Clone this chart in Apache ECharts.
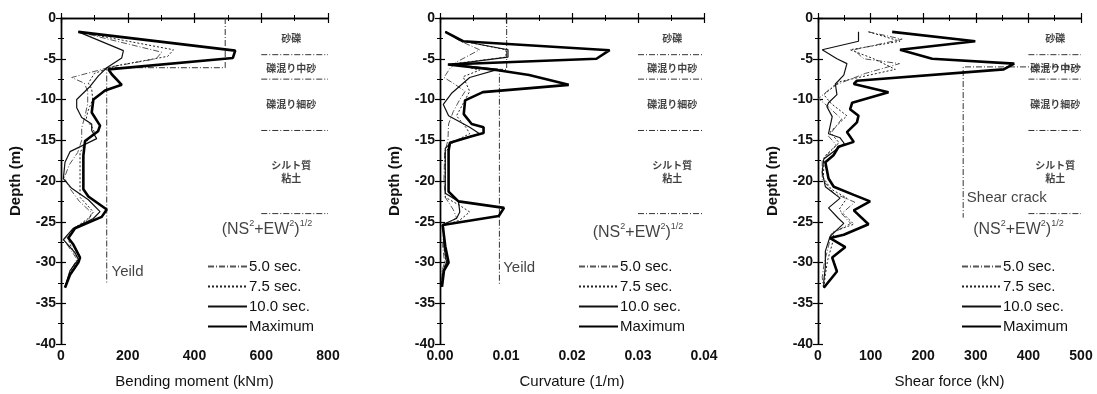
<!DOCTYPE html>
<html>
<head>
<meta charset="utf-8">
<script src="https://cdn.jsdelivr.net/npm/echarts@6/dist/echarts.min.js"></script>
<style>
  html, body { margin: 0; padding: 0; background: #fff; }
  #chart { width: 1097px; height: 394px; }
</style>
</head>
<body>
<div id="chart"></div>
<script>
// ---- data: [value, depth (m)] ----
const seriesNames = ['5.0 sec.', '7.5 sec.', '10.0 sec.', 'Maximum'];

// Bending moment (kNm)
const bm5 = [[52,-1.7],[302,-4.2],[285,-5],[150,-6],[32,-7.3],[70,-8],[80,-9],[80,-10.5],[72,-12],[62,-13.5],[62,-15],[50,-16.5],[25,-18],[10,-19.6],[28,-21],[55,-22.5],[92,-23.9],[85,-24.6],[45,-25.8],[8,-27.2],[30,-28.5],[48,-29.6],[28,-31],[12,-33]];
const bm7 = [[52,-1.7],[337,-3.9],[320,-4.7],[160,-5.9],[100,-6.8],[82,-8],[92,-8.7],[95,-10],[80,-11.5],[75,-12.5],[92,-13.3],[100,-14],[80,-15],[57,-16.5],[57,-19],[57,-22],[97,-23.8],[85,-24.5],[40,-25.8],[20,-27],[35,-28.5],[52,-29.6],[28,-31.2],[12,-33]];
const bm10 = [[52,-1.7],[187,-4.0],[182,-4.9],[137,-6.1],[112,-7.1],[87,-8.4],[47,-10],[47,-11],[62,-12.2],[92,-13],[92,-13.8],[107,-14.8],[27,-16.4],[12,-17.7],[7,-19.7],[32,-20.9],[82,-22.3],[117,-23.75],[97,-24.6],[37,-25.8],[7,-27.2],[42,-28.8],[52,-29.6],[27,-31],[12,-33]];
const bmMax = [[52,-1.7],[522,-4.0],[515,-4.9],[142,-6.3],[152,-6.9],[182,-8.2],[132,-8.9],[97,-10],[92,-11.6],[117,-13.2],[111,-13.9],[72,-15.1],[67,-16.9],[67,-21],[82,-21.9],[137,-23.5],[122,-24.4],[42,-25.8],[32,-26.4],[22,-27],[37,-27.8],[57,-29.4],[52,-30],[27,-31.5],[12,-33.1]];
const bmYield = [[492,0],[492,-6.1],[137,-6.1],[137,-32.5]];

// Curvature (1/m)
const cv5 = [[0.0008,-1.7],[0.003,-2.8],[0.006,-3.9],[0.0025,-5.4],[0.0015,-6.2],[0.0006,-7.3],[0.002,-8],[0.0038,-9],[0.003,-10],[0.002,-11.5],[0.0013,-13],[0.0012,-15],[0.0007,-16.5],[0.0006,-20],[0.0008,-22],[0.002,-23.5],[0.0025,-24.5],[0.0006,-25.5],[0.0004,-28],[0.0007,-30],[0.0003,-31],[0.0002,-33]];
const cv7 = [[0.0008,-1.7],[0.0035,-2.85],[0.0100,-3.9],[0.0100,-4.8],[0.0022,-5.6],[0.006,-6.4],[0.0035,-7.2],[0.0045,-9],[0.0035,-10.5],[0.0025,-12],[0.004,-13.5],[0.0045,-14.2],[0.002,-15.2],[0.0008,-16.5],[0.0008,-22],[0.003,-23],[0.0045,-23.8],[0.003,-24.8],[0.0005,-25.5],[0.0006,-28],[0.0009,-30],[0.0004,-31],[0.0002,-33]];
const cv10 = [[0.0008,-1.7],[0.0035,-2.85],[0.0103,-3.9],[0.0103,-4.8],[0.0018,-5.7],[0.0088,-6.3],[0.0045,-7.3],[0.0018,-9.2],[0.0005,-10.6],[0.0013,-12],[0.0045,-13.4],[0.006,-14.2],[0.0018,-15.2],[0.0008,-16],[0.0008,-21.5],[0.0028,-22.5],[0.003,-23.8],[0.0025,-24.6],[0.0005,-25.3],[0.0006,-28],[0.001,-30],[0.0005,-31],[0.0002,-33]];
const cvMax = [[0.0008,-1.7],[0.0035,-2.85],[0.0257,-3.95],[0.0237,-5.0],[0.0012,-5.7],[0.0088,-6.4],[0.0135,-7.0],[0.0195,-8.2],[0.0065,-9.1],[0.0038,-10.1],[0.0036,-11.8],[0.0048,-13.0],[0.0066,-13.4],[0.0066,-14.1],[0.0048,-14.5],[0.0015,-15.3],[0.0013,-16.3],[0.0013,-21.3],[0.0028,-22.5],[0.0097,-23.3],[0.0089,-24.3],[0.0004,-25.4],[0.0008,-28],[0.0013,-30],[0.0006,-31],[0.0003,-33]];
const cvYield = [[0.0101,0],[0.0101,-6.3],[0.0090,-6.3],[0.0090,-32.8]];

// Shear force (kN)
const sf5 = [[96,-1.7],[160,-2.6],[68,-3.9],[87,-5.0],[155,-5.6],[90,-6.8],[30,-8.3],[1,-9.9],[18,-10.8],[45,-12.4],[20,-14.5],[35,-15.6],[8,-17.5],[8,-19.8],[30,-21.5],[70,-22.6],[45,-24],[62,-25.2],[25,-26.5],[20,-28],[12,-30],[8,-31.8],[10,-33]];
const sf7 = [[96,-1.7],[156,-2.85],[61,-3.9],[106,-5.0],[147,-6.3],[42,-7.8],[11,-9.4],[25,-10.5],[55,-12.0],[23,-14],[40,-15.3],[12,-17],[10,-19.6],[25,-21],[55,-22.1],[40,-23.5],[68,-25.3],[30,-26.2],[28,-27.5],[18,-29.8],[14,-31.5],[11,-33]];
const sf10 = [[77,-1.7],[77,-2.85],[8,-3.9],[36,-5.0],[55,-5.6],[49,-7],[33,-8.1],[36,-9.4],[20,-10.4],[17,-10.9],[27,-12.1],[20,-14.2],[42,-14.7],[50,-15.4],[11,-17.3],[8,-18.9],[14,-20.7],[42,-22.1],[20,-23.3],[39,-24.6],[49,-25.2],[23,-26.8],[14,-28.6],[14,-30.5],[11,-32.3],[11,-33.1]];
const sfMax = [[141,-1.7],[299,-2.85],[156,-3.9],[217,-5.0],[373,-5.6],[353,-6.3],[74,-7.7],[68,-8.1],[134,-9.1],[65,-10.4],[61,-11.2],[77,-12],[74,-12.8],[55,-14],[68,-15.2],[39,-15.8],[30,-16.8],[14,-17.7],[20,-19.7],[30,-20.7],[68,-21.7],[99,-22.5],[68,-23.6],[96,-25.3],[49,-26.6],[23,-27],[52,-28.1],[27,-29.4],[36,-31.1],[11,-33.1]];
const sfCrack = [[500,-6],[276,-6],[276,-24.5]];

// Soil layers
const layerBounds = [-4.5, -7.5, -13.8, -24];
const layerNames = ['砂礫', '礫混り中砂', '礫混り細砂', 'シルト質\n粘土'];
const layerMids = [-2.5, -6.1, -10.6, -18.8];

// Axis settings
const depthTicks = { min: -40, max: 0, interval: 5 };
const xAxesDef = [
  { name: 'Bending moment (kNm)', min: 0, max: 800, interval: 200, digits: 0 },
  { name: 'Curvature (1/m)', min: 0, max: 0.04, interval: 0.01, digits: 2 },
  { name: 'Shear force (kN)', min: 0, max: 500, interval: 100, digits: 0 }
];

// ---- layout / style ----
const FONT = 'Liberation Sans, Arial, sans-serif';
const JFONT = 'Noto Sans CJK JP, sans-serif';
const grids = [
  { left: 61, top: 18, width: 267, height: 329 },
  { left: 440, top: 18, width: 264, height: 329 },
  { left: 818, top: 18, width: 263, height: 329 }
];
const lineStyles = [
  { type: [6, 2, 1, 2], width: 1, color: '#555' },
  { type: [2, 2], width: 1, color: '#222' },
  { type: 'solid', width: 1.2, color: '#111' },
  { type: 'solid', width: 2.6, color: '#000' }
];
const panels = [
  { curves: [bm5, bm7, bm10, bmMax], limit: bmYield, layerX: [600, 800], labelX: 690,
    limitText: 'Yeild', limitAt: [150, -31.2], formulaAt: [617, -25.8], legendLeft: 207 },
  { curves: [cv5, cv7, cv10, cvMax], limit: cvYield, layerX: [0.03, 0.04], labelX: 0.0352,
    limitText: 'Yeild', limitAt: [0.0095, -30.6], formulaAt: [0.0300, -26.2], legendLeft: 578 },
  { curves: [sf5, sf7, sf10, sfMax], limit: sfCrack, layerX: [400, 500], labelX: 451,
    limitText: 'Shear crack', limitAt: [282, -22.1], formulaAt: [381, -25.8], legendLeft: 961 }
];

const xAxis = [], yAxis = [], series = [], legend = [];
grids.forEach((g, i) => {
  const d = xAxesDef[i];
  const common = {
    gridIndex: i, type: 'value', min: d.min, max: d.max, interval: d.interval,
    axisLine: { lineStyle: { color: '#000', width: 1.4 } },
    axisTick: { inside: true, length: 5, lineStyle: { color: '#000', width: 1.2 } },
    minorTick: { show: true, splitNumber: 2, length: 3, lineStyle: { color: '#000', width: 1 } },
    splitLine: { show: false }
  };
  xAxis.push(Object.assign({}, common, {
    position: 'bottom', name: d.name, nameLocation: 'middle', nameGap: 30,
    nameTextStyle: { fontFamily: FONT, fontSize: 15, color: '#111' },
    axisLabel: { fontFamily: FONT, fontSize: 14, fontWeight: 'bold', color: '#111', margin: 5,
      formatter: v => v.toFixed(d.digits) }
  }));
  xAxis.push(Object.assign({}, common, { position: 'top', axisLabel: { show: false } }));
  const ycommon = Object.assign({}, common, depthTicks);
  yAxis.push(Object.assign({}, ycommon, {
    position: 'left', name: 'Depth (m)', nameLocation: 'middle', nameGap: 38,
    nameTextStyle: { fontFamily: FONT, fontSize: 15, fontWeight: 'bold', color: '#111' },
    axisLabel: { fontFamily: FONT, fontSize: 14, fontWeight: 'bold', color: '#111', margin: 5 }
  }));
  yAxis.push(Object.assign({}, ycommon, { position: 'right', axisLabel: { show: false } }));

  const p = panels[i];
  const ax = { xAxisIndex: 2 * i, yAxisIndex: 2 * i };
  // response curves
  p.curves.forEach((c, k) => {
    series.push(Object.assign({
      type: 'line', name: seriesNames[k], data: c, showSymbol: false, symbol: 'none',
      legendIcon: 'none',
      lineStyle: lineStyles[k], itemStyle: { color: lineStyles[k].color },
      silent: true, animation: false, z: 5 + k
    }, ax));
  });
  // yield / shear-crack limit
  series.push(Object.assign({
    type: 'line', data: p.limit, showSymbol: false, symbol: 'none',
    lineStyle: { type: [6, 2, 1, 2], width: 1, color: '#333' }, silent: true, animation: false, z: 2
  }, ax));
  // soil layer boundaries
  layerBounds.forEach(b => {
    series.push(Object.assign({
      type: 'line', data: [[p.layerX[0], b], [p.layerX[1], b]], showSymbol: false, symbol: 'none',
      lineStyle: { type: [6, 2, 1, 2], width: 1, color: '#333' }, silent: true, animation: false, z: 2
    }, ax));
  });
  // texts anchored on data coordinates
  const labels = layerNames.map((n, k) => ({
    value: [p.labelX, layerMids[k]],
    label: { formatter: n, position: 'inside', fontFamily: JFONT, fontSize: 10, fontWeight: 'bold',
      color: '#111', lineHeight: 13, align: 'center' }
  }));
  labels.push({
    value: p.limitAt,
    label: { formatter: p.limitText, position: 'right', distance: 0, fontFamily: FONT, fontSize: 15, color: '#111' }
  });
  labels.push({
    value: p.formulaAt,
    label: {
      position: 'inside', formatter: '{a|(NS}{s|2}{a|+EW}{s|2}{a|)}{s|1/2}',
      rich: {
        a: { fontFamily: FONT, fontSize: 16, color: '#111', lineHeight: 19, verticalAlign: 'bottom' },
        s: { fontFamily: FONT, fontSize: 9, color: '#111', lineHeight: 9, verticalAlign: 'top' }
      }
    }
  });
  series.push(Object.assign({
    type: 'scatter', data: labels, symbolSize: 1, itemStyle: { color: 'rgba(0,0,0,0)' },
    label: { show: true }, silent: true, animation: false, z: 10
  }, ax));

  legend.push({
    data: seriesNames, orient: 'vertical', left: p.legendLeft, top: 259,
    itemWidth: 39, itemHeight: 14, itemGap: 5, selectedMode: false, padding: 0,
    itemStyle: { opacity: 0 },
    textStyle: { fontFamily: FONT, fontSize: 15, color: '#111', padding: [0, 0, 0, -3] }
  });
});

const chart = echarts.init(document.getElementById('chart'), null, { renderer: 'canvas' });
chart.setOption({
  backgroundColor: '#fff',
  animation: false,
  grid: grids,
  xAxis: xAxis,
  yAxis: yAxis,
  legend: legend,
  series: series
});
</script>
</body>
</html>
